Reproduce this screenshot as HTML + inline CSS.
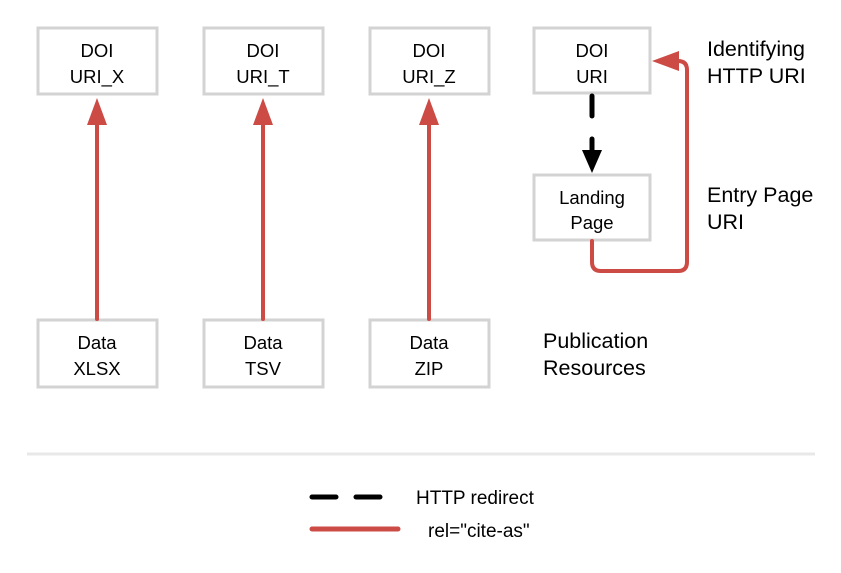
<!DOCTYPE html>
<html><head><style>body{margin:0;background:#fff}</style></head><body>
<svg width="841" height="568" viewBox="0 0 841 568" xmlns="http://www.w3.org/2000/svg" font-family="Liberation Sans, Arial, sans-serif">
<rect width="841" height="568" fill="#fff"/>
<g fill="none" stroke="#d3d3d3" stroke-width="3">
<rect x="38" y="28" width="119" height="66"/>
<rect x="204" y="28" width="119" height="66"/>
<rect x="370" y="28" width="119" height="66"/>
<rect x="534" y="28" width="116" height="65"/>
<rect x="534" y="175" width="116" height="65"/>
<rect x="38" y="320" width="119" height="67"/>
<rect x="204" y="320" width="119" height="67"/>
<rect x="370" y="320" width="119" height="67"/>
</g>
<g font-size="18.5" text-anchor="middle" fill="#000">
<text x="97" y="57">DOI</text><text x="97" y="83">URI_X</text>
<text x="263" y="57">DOI</text><text x="263" y="83">URI_T</text>
<text x="429" y="57">DOI</text><text x="429" y="83">URI_Z</text>
<text x="592" y="57">DOI</text><text x="592" y="83">URI</text>
<text x="592" y="204">Landing</text><text x="592" y="229">Page</text>
<text x="97" y="349">Data</text><text x="97" y="375">XLSX</text>
<text x="263" y="349">Data</text><text x="263" y="375">TSV</text>
<text x="429" y="349">Data</text><text x="429" y="375">ZIP</text>
</g>
<g font-size="21.5" fill="#000">
<text x="707" y="56">Identifying</text><text x="707" y="83">HTTP URI</text>
<text x="707" y="202">Entry Page</text><text x="707" y="229">URI</text>
<text x="543" y="348">Publication</text><text x="543" y="375">Resources</text>
</g>
<g stroke="#cc4b45" stroke-width="4" fill="none" stroke-linecap="round">
<line x1="97" y1="319" x2="97" y2="120"/>
<line x1="263" y1="319" x2="263" y2="120"/>
<line x1="429" y1="319" x2="429" y2="120"/>
<path d="M592 241 V262 Q592 271 601 271 H678 Q687 271 687 262 V70 Q687 61 678 61 H672"/>
</g>
<g fill="#cc4b45">
<polygon points="97,98 87,125 107,125"/>
<polygon points="263,98 253,125 273,125"/>
<polygon points="429,98 419,125 439,125"/>
<polygon points="652,61 679,51 679,71"/>
</g>
<g stroke="#000" stroke-width="5" stroke-linecap="round">
<line x1="592" y1="96" x2="592" y2="116"/>
<line x1="592" y1="139" x2="592" y2="152"/>
</g>
<polygon points="592,173 582,150 602,150" fill="#000"/>
<line x1="27" y1="454" x2="815" y2="454" stroke="#e8e8e8" stroke-width="3"/>
<g stroke="#000" stroke-width="5" stroke-linecap="round">
<line x1="312" y1="497" x2="336" y2="497"/>
<line x1="356" y1="497" x2="380" y2="497"/>
</g>
<line x1="312" y1="529" x2="398" y2="529" stroke="#cc4b45" stroke-width="5" stroke-linecap="round"/>
<g font-size="19" fill="#000">
<text x="416" y="504">HTTP redirect</text>
<text x="428" y="537">rel="cite-as"</text>
</g>
</svg>
</body></html>
